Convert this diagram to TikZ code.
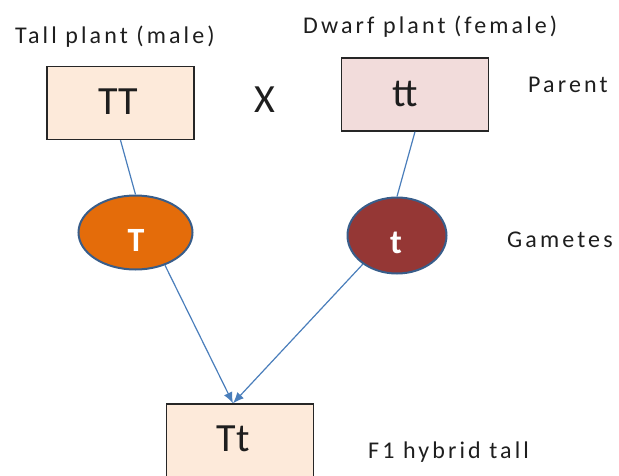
\documentclass[tikz,border=0pt]{standalone}
\usepackage{fontspec}
\setmainfont{Carlito}
\newfontfamily\labfont[LetterSpace=13]{Carlito}
\usetikzlibrary{shapes.geometric,arrows.meta,calc}
\definecolor{peach}{HTML}{FDEADA}
\definecolor{rose}{HTML}{F2DCDB}
\definecolor{boxline}{HTML}{262626}
\definecolor{ink}{HTML}{1E1E1E}
\definecolor{orangeG}{HTML}{E46C0A}
\definecolor{redG}{HTML}{953735}
\definecolor{gameteline}{HTML}{385D8A}
\definecolor{linkblue}{HTML}{4A7EBB}
\begin{document}
\begin{tikzpicture}[x=1pt,y=-1pt,
  box/.style={draw=boxline, line width=1.4pt, minimum width=147pt,
    minimum height=73pt, inner sep=0pt},
  gamete/.style={ellipse, draw=gameteline, line width=2pt, inner sep=0pt},
  big/.style={font=\fontsize{40}{40}\selectfont, text=ink, inner sep=0pt, anchor=base},
  gtext/.style={font=\bfseries\fontsize{34}{34}\selectfont, text=white, inner sep=0pt, anchor=base},
  lbl/.style={font=\labfont\fontsize{24}{24}\selectfont, text=ink, inner sep=0pt, anchor=base west},
  link/.style={draw=linkblue, line width=1.2pt},
  tip/.style={-{Latex[length=11pt,width=9pt]}}
]
\clip (0,0) rectangle (619,475);

% side captions
\node[lbl] (tallLbl)   at (15,43)   {Tall plant (male)};
\node[lbl] (dwarfLbl)  at (303,33)  {Dwarf plant (female)};
\node[lbl] (parentLbl) at (528,92)  {Parent};
\node[lbl] (gamLbl)    at (507,247) {Gametes};
\node[lbl] (f1Lbl)     at (368,458) {F1 hybrid tall};

% parents and offspring
\node[box, fill=peach] (TT) at (120.5,103) {};
\node[big] (TTtxt) at (118,114) {TT};
\node[box, fill=rose] (tt) at (415,94.5) {};
\node[big] (tttxt) at (405,106) {tt};
\node[big] (cross) at (265,112) {X};
\node[box, fill=peach, minimum height=80pt] (Tt) at (240,444) {};
\node[big] (Tttxt) at (233,451) {Tt};

% gametes
\node[gamete, fill=orangeG, minimum width=114pt, minimum height=74pt] (gT) at (135.5,232.5) {};
\node[gtext] (gTtxt) at (136,251) {T};
\node[gamete, fill=redG, minimum width=99pt, minimum height=76pt] (gt) at (397,235.5) {};
\node[gtext] (gttxt) at (396,253) {t};

% connectors
\coordinate (meet) at ([xshift=-7pt]Tt.north);
\draw[link] (TT.south) -- (gT.north);
\draw[link] (tt.south) -- (gt.north);
\draw[link, tip] (gT.-48) -- (meet);
\draw[link, tip] (gt.220) -- (meet);
\end{tikzpicture}
\end{document}
